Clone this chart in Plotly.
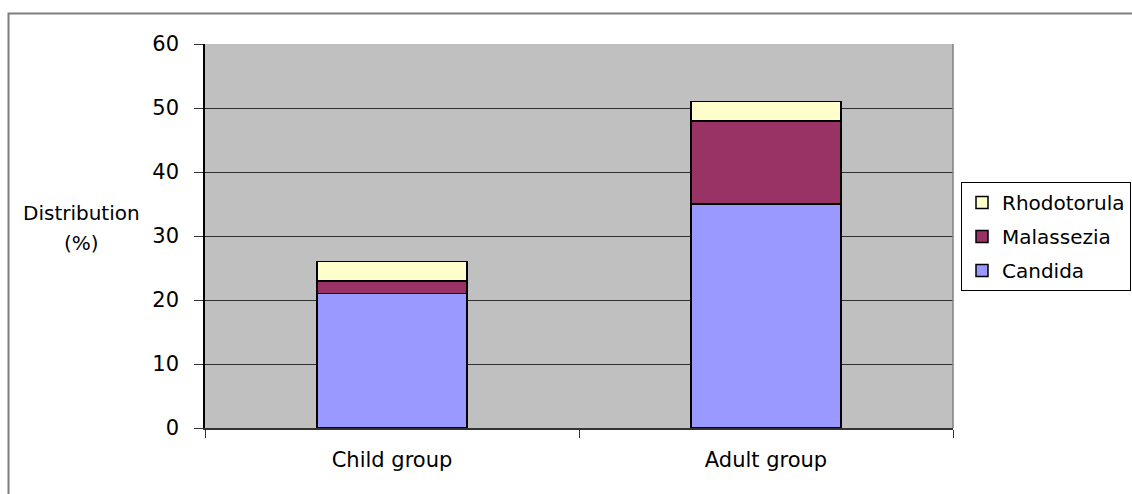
import plotly.graph_objects as go

categories = ["Child group", "Adult group"]
candida = [21, 35]
malassezia = [2, 13]
rhodotorula = [3, 3]
y_ticks = [0, 10, 20, 30, 40, 50, 60]

FONT = "DejaVu Sans"

fig = go.Figure()
series = [
    ("Candida", candida, "#9999FF", 3),
    ("Malassezia", malassezia, "#993366", 2),
    ("Rhodotorula", rhodotorula, "#FFFFCC", 1),
]
for name, vals, col, rank in series:
    fig.add_trace(go.Bar(
        x=categories, y=vals, name=name, legendgroup=name, legendrank=rank,
        marker=dict(color=col, line=dict(color="#000000", width=1.5)),
        width=0.4,
    ))

fig.update_layout(
    barmode="stack",
    width=1132, height=494,
    margin=dict(l=205, r=179, t=44, b=66, autoexpand=False),
    paper_bgcolor="white",
    plot_bgcolor="#C0C0C0",
    font=dict(family=FONT, size=21, color="black"),
    showlegend=True,
    legend=dict(
        x=(961 - 205) / 748, y=(428 - 182) / 384,
        xanchor="left", yanchor="top",
        bordercolor="black", borderwidth=1,
        bgcolor="white",
        traceorder="grouped", tracegroupgap=5,
        font=dict(family=FONT, size=20, color="black"),
    ),
    xaxis=dict(
        showgrid=False, showline=True, linecolor="#333333", linewidth=1.5,
        ticks="outside", tickson="boundaries", ticklen=8, tickcolor="#333333",
        tickfont=dict(family=FONT, size=21, color="black"),
        ticklabelstandoff=12,
    ),
    yaxis=dict(
        range=[0, 60], tickvals=y_ticks,
        showgrid=True, gridcolor="#303030", gridwidth=1,
        zeroline=False,
        showline=True, linecolor="#000000", linewidth=1.5,
        ticks="outside", ticklen=9, tickcolor="#333333",
        tickfont=dict(family=FONT, size=21, color="black"),
        ticklabelstandoff=11,
    ),
    shapes=[
        dict(type="rect", xref="paper", yref="paper",
             x0=(8.5 - 205) / 748, x1=(1160 - 205) / 748,
             y0=(428 - 520) / 384, y1=(428 - 13.5) / 384,
             line=dict(color="#7F7F7F", width=2), layer="below"),
        dict(type="line", xref="paper", yref="paper",
             x0=1, x1=1, y0=0, y1=1,
             line=dict(color="#808080", width=1.5)),
    ],
    annotations=[
        dict(text="Distribution", xref="paper", yref="paper",
             x=(81 - 205) / 748, y=(428 - 213) / 384,
             showarrow=False, xanchor="center", yanchor="middle",
             font=dict(family=FONT, size=20, color="black")),
        dict(text="(%)", xref="paper", yref="paper",
             x=(81 - 205) / 748, y=(428 - 243) / 384,
             showarrow=False, xanchor="center", yanchor="middle",
             font=dict(family=FONT, size=20, color="black")),
    ],
)

fig.write_html("out.html")
